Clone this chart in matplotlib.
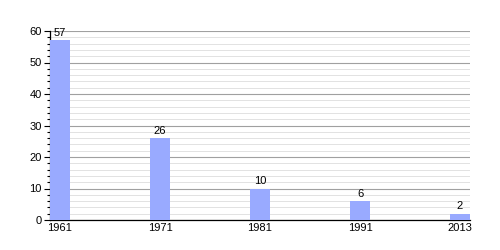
import matplotlib
matplotlib.use("Agg")
import matplotlib.pyplot as plt
import numpy as np

plt.rcParams['font.family'] = ['Liberation Sans', 'DejaVu Sans']

years = ["1961", "1971", "1981", "1991", "2013"]
values = [57, 26, 10, 6, 2]

fig = plt.figure(figsize=(5, 2.5), dpi=100)
ax = fig.add_axes([0.1, 0.12, 0.84, 0.756])

x = np.arange(len(years))
bw = 0.2
bars = ax.bar(x, values, width=bw, align="edge", color="#99aaff", zorder=3)
for xi, v in zip(x, values):
    ax.text(xi + bw / 2, v + 0.8, str(v), ha="center", va="bottom", fontsize=8, color="#000")

ax.set_xlim(0, len(years) - 1 + bw)
ax.set_ylim(0, 60)
ax.set_xticks(x + bw / 2)
ax.set_xticklabels(years, fontsize=8)
ax.set_yticks(np.arange(0, 61, 10))
ax.set_yticks(np.arange(0, 61, 2), minor=True)
ax.tick_params(axis="y", which="major", labelsize=8, length=4, width=0.8, pad=2)
ax.tick_params(axis="y", which="minor", length=2, width=0.8)
ax.tick_params(axis="x", length=0, pad=2)
ax.grid(axis="y", which="major", color="#a0a0a0", linewidth=0.8, zorder=0)
ax.grid(axis="y", which="minor", color="#dddddd", linewidth=0.6, zorder=0)
for s in ["top", "right"]:
    ax.spines[s].set_visible(False)
ax.spines["left"].set_linewidth(0.9)
ax.spines["bottom"].set_linewidth(0.9)
ax.set_axisbelow(True)

fig.savefig("out.png", dpi=100)
